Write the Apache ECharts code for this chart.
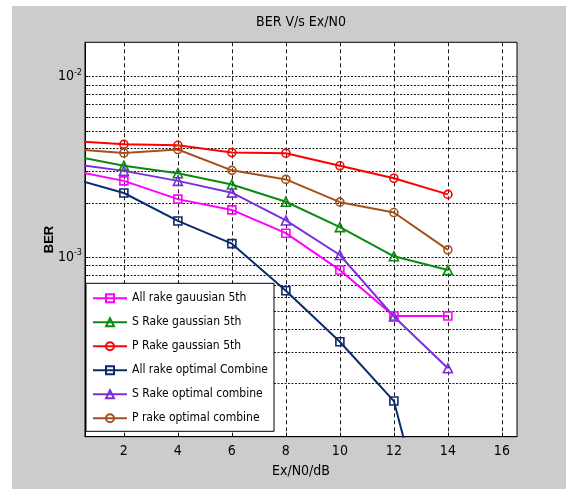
<!DOCTYPE html>
<html>
<head>
<meta charset="utf-8">
<script src="https://cdn.jsdelivr.net/npm/echarts@6/dist/echarts.min.js"></script>
<style>
  html, body { margin: 0; padding: 0; background: #ffffff; }
  #chart { position: absolute; left: 12px; top: 6px; width: 554px; height: 483px; }
</style>
</head>
<body>
<div id="chart"></div>
<script>
// Ex/N0 in dB
const exN0 = [0, 2, 4, 6, 8, 10, 12, 14];

// bit error rate per receiver
const allRakeGaussian = [3.03e-3, 2.65e-3, 2.10e-3, 1.83e-3, 1.36e-3, 8.5e-4, 4.73e-4, 4.73e-4];
const sRakeGaussian   = [3.67e-3, 3.21e-3, 2.92e-3, 2.53e-3, 2.03e-3, 1.47e-3, 1.013e-3, 8.5e-4];
const pRakeGaussian   = [4.42e-3, 4.22e-3, 4.17e-3, 3.80e-3, 3.77e-3, 3.21e-3, 2.74e-3, 2.23e-3];
const allRakeOptimal  = [2.76e-3, 2.27e-3, 1.59e-3, 1.19e-3, 6.53e-4, 3.41e-4, 1.60e-4, 1.17e-5];
const sRakeOptimal    = [3.30e-3, 3.01e-3, 2.65e-3, 2.28e-3, 1.60e-3, 1.03e-3, 4.70e-4, 2.43e-4];
const pRakeOptimal    = [3.98e-3, 3.78e-3, 3.95e-3, 3.03e-3, 2.70e-3, 2.02e-3, 1.77e-3, 1.10e-3];

const seriesNames = [
  'All rake gauusian 5th',
  'S Rake gaussian 5th',
  'P Rake gaussian 5th',
  'All rake optimal Combine',
  'S Rake optimal combine',
  'P rake optimal combine'
];

// axis ticks
const xTickLabels = [2, 4, 6, 8, 10, 12, 14, 16];
const yDecadeLabels = [1e-3, 1e-2];
// log grid lines (2..9 per decade)
const yGridValues = [
  2e-4, 3e-4, 4e-4, 5e-4, 6e-4, 7e-4, 8e-4, 9e-4,
  1e-3, 2e-3, 3e-3, 4e-3, 5e-3, 6e-3, 7e-3, 8e-3, 9e-3,
  1e-2
];

const FONT = "'DejaVu Sans Condensed', 'Liberation Sans', sans-serif";

const styles = [
  { color: '#ff00ff', symbol: 'rect' },
  { color: '#0b8a12', symbol: 'triangle' },
  { color: '#ff0000', symbol: 'circle' },
  { color: '#0c2a6e', symbol: 'rect' },
  { color: '#7a2ee0', symbol: 'triangle' },
  { color: '#a5501c', symbol: 'circle' }
];
const values = [allRakeGaussian, sRakeGaussian, pRakeGaussian, allRakeOptimal, sRakeOptimal, pRakeOptimal];

const lineSeries = values.map((vals, i) => ({
  name: seriesNames[i],
  type: 'line',
  data: exN0.map((x, k) => [x, vals[k]]),
  symbol: styles[i].symbol,
  symbolSize: styles[i].symbol === 'triangle' ? 9 : 8,
  clip: true,
  z: 3,
  lineStyle: { color: styles[i].color, width: 2 },
  itemStyle: { color: 'rgba(0,0,0,0)', borderColor: styles[i].color, borderWidth: 1.6 },
  emphasis: { disabled: true },
  animation: false
}));

const chart = echarts.init(document.getElementById('chart'), null, { renderer: 'canvas' });
chart.setOption({
  animation: false,
  backgroundColor: '#cccccc',
  title: {
    text: 'BER V/s Ex/N0',
    left: 289,
    top: 9,
    padding: 0,
    textAlign: 'center',
    textStyle: { fontFamily: FONT, fontSize: 14, fontWeight: 'normal', color: '#000' }
  },
  grid: {
    left: 73, top: 36.3, width: 432, height: 394.4,
    show: true, backgroundColor: '#ffffff', borderColor: '#000', borderWidth: 1
  },
  legend: {
    data: seriesNames,
    orient: 'vertical',
    left: 74,
    top: 277.3,
    padding: [7, 6, 5, 6],
    itemWidth: 34,
    itemHeight: 10,
    itemGap: 8,
    backgroundColor: '#ffffff',
    borderColor: '#000',
    borderWidth: 1,
    borderRadius: 0,
    selectedMode: false,
    textStyle: { fontFamily: FONT, fontSize: 12, lineHeight: 16, color: '#000' }
  },
  xAxis: {
    type: 'value',
    min: 0.56,
    max: 16.56,
    name: 'Ex/N0/dB',
    nameLocation: 'middle',
    nameGap: 28,
    nameMoveOverlap: false,
    nameTextStyle: { fontFamily: FONT, fontSize: 14, color: '#000' },
    axisLine: { show: true, lineStyle: { color: '#000', width: 1 } },
    axisTick: { show: true, inside: true, length: 4, customValues: xTickLabels, lineStyle: { color: '#000' } },
    axisLabel: {
      margin: 8,
      customValues: xTickLabels,
      fontFamily: FONT, fontSize: 14, color: '#000'
    },
    splitLine: { show: true, lineStyle: { color: '#1a1a1a', type: [4, 3], width: 1 } }
  },
  yAxis: {
    type: 'log',
    logBase: 10,
    min: 1.016e-4,
    max: 0.0155,
    name: 'BER',
    nameLocation: 'middle',
    nameGap: 29,
    nameMoveOverlap: false,
    nameTextStyle: { fontFamily: "'Liberation Sans', Arial, sans-serif", fontSize: 13, fontWeight: 'bold', color: '#000' },
    axisLine: { show: true, lineStyle: { color: '#000', width: 1 } },
    axisTick: { show: true, inside: true, length: 3, customValues: yGridValues, lineStyle: { color: '#000' } },
    axisLabel: {
      margin: 3,
      color: '#000',
      customValues: yDecadeLabels,
      formatter: v => '{b|10}{s|' + Math.round(Math.log10(v)) + '}',
      rich: {
        b: { fontFamily: FONT, fontSize: 14, color: '#000', lineHeight: 16 },
        s: { fontFamily: FONT, fontSize: 9, color: '#000', padding: [0, 0, 9, 0] }
      }
    },
    splitLine: { show: true, lineStyle: { color: '#1a1a1a', type: [2, 1.5], width: 1 } }
  },
  series: lineSeries
});
</script>
</body>
</html>
